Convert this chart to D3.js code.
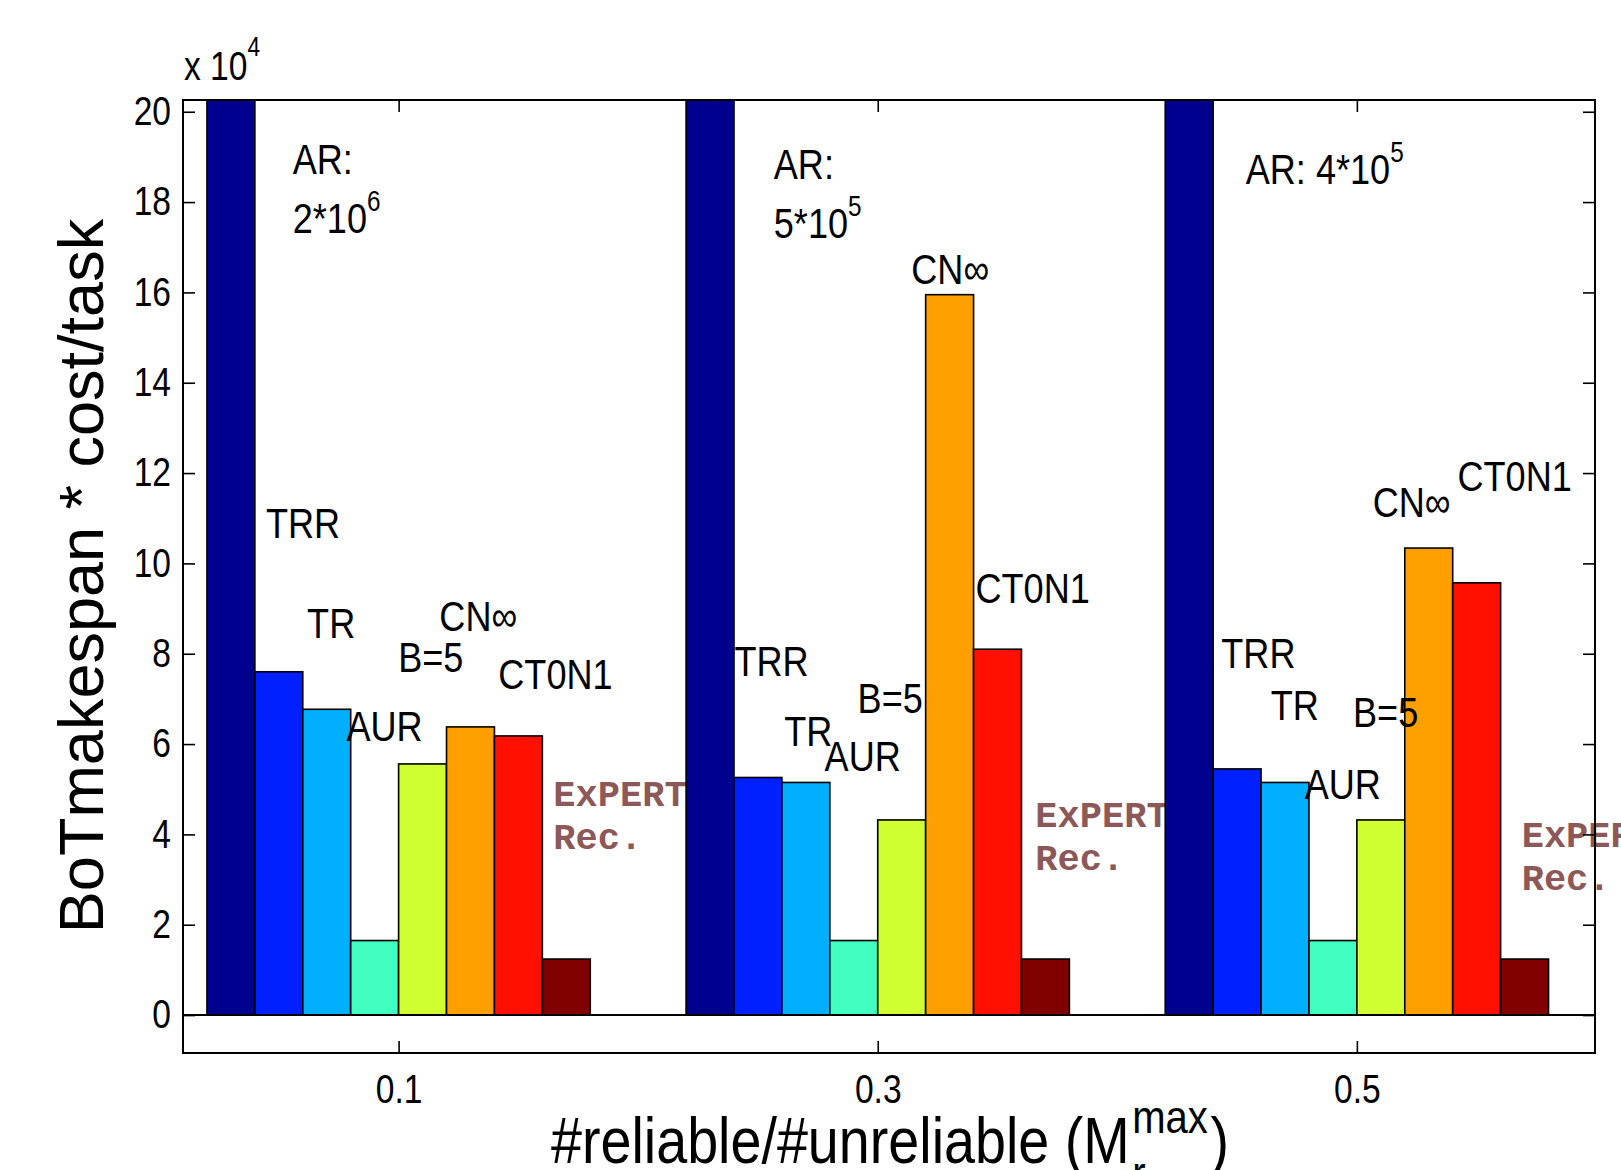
<html>
<script src="https://d3js.org/d3.v7.min.js"></script>
<style>
  body { margin: 0; background: #fff; }
  text { font-family: "Liberation Sans", Arial, sans-serif; fill: #000; }
  .bar { stroke: #000; stroke-width: 1.6; }
  .axis line { stroke: #000; stroke-width: 1.6; }
  .axis path { display: none; }
  .rec { font-family: "Liberation Mono", "Courier New", monospace; font-weight: bold; fill: #8c5858; }
</style>
<body>
<svg width="1621" height="1170"></svg>
<script>
// groups on the x axis (#reliable/#unreliable)
var groups = ["0.1", "0.3", "0.5"];
var series = ["AR", "TRR", "TR", "AUR", "B=5", "CN\u221e", "CT0N1", "ExPERT"];
var colors = ["#00008f", "#0020ff", "#00afff", "#40ffc0", "#cfff30", "#ff9f00", "#ff1000", "#800000"];

// values in units of 10^4
var AR     = [200, 50, 40];
var TRR    = [7.6, 5.26, 5.45];
var TR     = [6.77, 5.15, 5.15];
var AUR    = [1.65, 1.65, 1.65];
var B5     = [5.56, 4.32, 4.32];
var CNinf  = [6.38, 15.95, 10.34];
var CT0N1  = [6.18, 8.1, 9.57];
var ExPERT = [1.24, 1.24, 1.24];
var values = [AR, TRR, TR, AUR, B5, CNinf, CT0N1, ExPERT];

var yTicks = [0, 2, 4, 6, 8, 10, 12, 14, 16, 18, 20];

// text annotations, placed in data coordinates (x = group index, y = value)
var labels = [
  {t: "TRR", x: 0.723, y: 10.57}, {t: "TR", x: 0.809, y: 8.35}, {t: "AUR", x: 0.891, y: 6.06},
  {t: "B=5", x: 0.999, y: 7.6}, {t: "CN\u221e", x: 1.085, y: 8.51}, {t: "CT0N1", x: 1.208, y: 7.21},
  {t: "TRR", x: 1.701, y: 7.51}, {t: "TR", x: 1.805, y: 5.95}, {t: "AUR", x: 1.889, y: 5.4},
  {t: "B=5", x: 1.958, y: 6.68}, {t: "CN\u221e", x: 2.07, y: 16.18}, {t: "CT0N1", x: 2.204, y: 9.13},
  {t: "TRR", x: 2.717, y: 7.69}, {t: "TR", x: 2.82, y: 6.54}, {t: "AUR", x: 2.891, y: 4.78},
  {t: "B=5", x: 2.992, y: 6.38}, {t: "CN\u221e", x: 3.033, y: 11.03}, {t: "CT0N1", x: 3.21, y: 11.6}
];
var arNotes = [
  {x: 0.779, y: 18.63, lines: [["AR:", ""], ["2*10", "6"]]},
  {x: 1.783, y: 18.51, lines: [["AR:", ""], ["5*10", "5"]]},
  {x: 2.768, y: 18.4,  lines: [["AR: 4*10", "5"]]}
];
var recNotes = [{x: 1.323, y: 4.62}, {x: 2.329, y: 4.16}, {x: 3.344, y: 3.71}];

var svg = d3.select("svg");
var pl = 183, pr = 1595, pt = 100, pb = 1053;
var narrow = 0.84;

var x = d3.scaleLinear().domain([0.55, 3.497]).range([pl, pr]);
var y = d3.scaleLinear().domain([-0.84, 20.26]).range([pb, pt]);
var inner = d3.scaleBand().domain(series).range([-0.4, 0.4]);
var bw = x(inner.bandwidth()) - x(0);

// condensed text: placed at (px,py) and squeezed horizontally
function ntext(px, py, size, sx) {
  return svg.append("text")
    .attr("transform", "translate(" + px + "," + py + ") scale(" + (sx || narrow) + ",1)")
    .style("font-size", size + "px");
}

svg.append("clipPath").attr("id", "plot")
  .append("rect").attr("x", pl).attr("y", pt).attr("width", pr - pl).attr("height", pb - pt);

var rows = [];
groups.forEach(function(g, gi) {
  series.forEach(function(s, si) {
    rows.push({g: gi + 1, s: s, v: values[si][gi], c: colors[si]});
  });
});

recNotes.forEach(function(n) {
  svg.append("text").attr("class", "rec").attr("x", x(n.x)).attr("y", y(n.y)).style("font-size", "37px").text("ExPERT");
  svg.append("text").attr("class", "rec").attr("x", x(n.x)).attr("y", y(n.y) + 43).style("font-size", "37px").text("Rec.");
});

svg.append("g").attr("clip-path", "url(#plot)")
  .selectAll("rect").data(rows).enter().append("rect")
    .attr("class", "bar")
    .attr("x", function(d) { return x(d.g + inner(d.s)); })
    .attr("y", function(d) { return y(d.v); })
    .attr("width", bw)
    .attr("height", function(d) { return y(0) - y(d.v); })
    .attr("fill", function(d) { return d.c; });

// baseline
svg.append("line").attr("x1", pl).attr("x2", pr).attr("y1", y(0)).attr("y2", y(0))
  .attr("stroke", "#000").attr("stroke-width", 2);

// axes
var ya = svg.append("g").attr("class", "axis").attr("transform", "translate(" + pl + ",0)")
  .call(d3.axisLeft(y).tickValues(yTicks).tickSizeInner(-12).tickSizeOuter(0).tickPadding(12));
ya.selectAll("text").style("font-size", "40px").attr("fill", "#000")
  .attr("x", null).attr("transform", "translate(-12,0) scale(" + narrow + ",1)");
svg.append("g").attr("class", "axis").attr("transform", "translate(" + pr + ",0)")
  .call(d3.axisRight(y).tickValues(yTicks).tickSizeInner(-12).tickSizeOuter(0).tickFormat(""));
var xa = svg.append("g").attr("class", "axis").attr("transform", "translate(0," + pb + ")")
  .call(d3.axisBottom(x).tickValues([1, 2, 3]).tickSizeInner(-12).tickSizeOuter(0).tickPadding(22)
    .tickFormat(function(d) { return groups[d - 1]; }));
xa.selectAll("text").style("font-size", "40px").attr("fill", "#000")
  .attr("y", null).attr("transform", "translate(0,22) scale(" + narrow + ",1)");
svg.append("g").attr("class", "axis").attr("transform", "translate(0," + pt + ")")
  .call(d3.axisTop(x).tickValues([1, 2, 3]).tickSizeInner(-12).tickSizeOuter(0).tickFormat(""));

svg.append("rect").attr("x", pl).attr("y", pt).attr("width", pr - pl).attr("height", pb - pt)
  .attr("fill", "none").attr("stroke", "#000").attr("stroke-width", 2);

// exponent note
var ex = ntext(pl + 1, 80, 40);
ex.append("tspan").text("x 10");
ex.append("tspan").attr("dy", -24).style("font-size", "27px").text("4");

// bar labels
labels.forEach(function(d) {
  ntext(x(d.x), y(d.y), 43).text(d.t);
});

arNotes.forEach(function(n) {
  n.lines.forEach(function(l, li) {
    var t = ntext(x(n.x), y(n.y) + li * 59, 43);
    t.append("tspan").text(l[0]);
    if (l[1]) t.append("tspan").attr("dy", -22).style("font-size", "29px").text(l[1]);
  });
});

// axis titles
svg.append("text").attr("transform", "translate(103,576) rotate(-90)")
  .attr("text-anchor", "middle")
  .style("font-size", "63px")
  .text("BoTmakespan * cost/task");

var xl = ntext(551, 1163, 64, 0.87);
var xm = xl.append("tspan").attr("x", 0).text("#reliable/#unreliable (M");
var w1 = xm.node().getComputedTextLength() + 3;
var sup = xl.append("tspan").attr("x", w1).attr("dy", -30).style("font-size", "46px").text("max");
var w2 = sup.node().getComputedTextLength();
xl.append("tspan").attr("x", w1).attr("dy", 56).style("font-size", "46px").text("r");
xl.append("tspan").attr("x", w1 + w2 + 3).attr("dy", -26).text(")");
</script>
</body>
</html>
